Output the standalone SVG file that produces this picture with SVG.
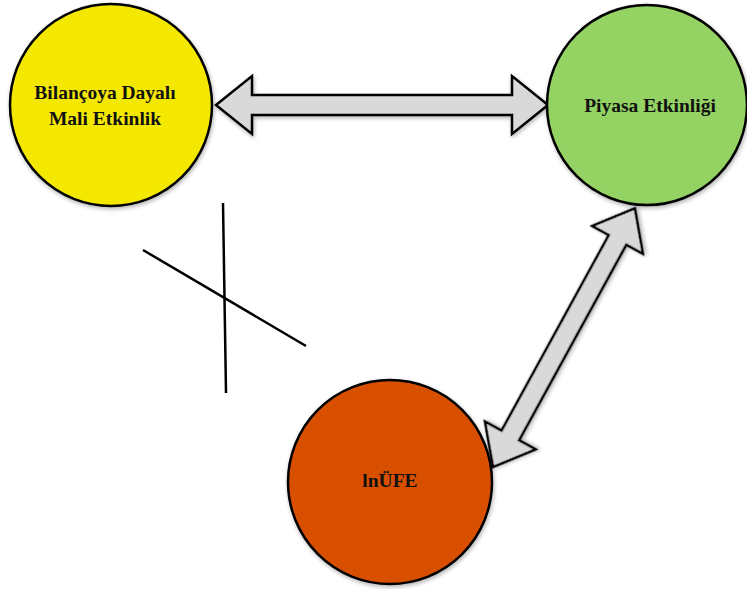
<svg xmlns="http://www.w3.org/2000/svg" width="747" height="589" viewBox="0 0 747 589">
<defs>
<filter id="sh" x="-20%" y="-20%" width="140%" height="140%">
<feGaussianBlur in="SourceAlpha" stdDeviation="2"/>
<feOffset dx="1" dy="2"/>
<feComponentTransfer><feFuncA type="linear" slope="0.3"/></feComponentTransfer>
<feMerge><feMergeNode/><feMergeNode in="SourceGraphic"/></feMerge>
</filter>
</defs>
<style>
.node{stroke:#000;stroke-width:2.5;filter:url(#sh)}
.lbl{font-family:"Liberation Serif","Times New Roman",serif;font-weight:bold;font-size:19.5px;fill:#111;text-anchor:middle}
.arr{fill:#D9D9D9;stroke:#000;stroke-width:2.5;stroke-linejoin:miter;filter:url(#sh)}
.cross{stroke:#000;stroke-width:2.5;fill:none}
</style>
<g id="connectors">
<path class="arr" d="M216,105 L252,76 L252,95 L512,95 L512,76 L548,105 L512,134 L512,115 L252,115 L252,134 Z"/>
<path class="arr" transform="translate(493,467) rotate(-61.26)" d="M0,0 L36,-29 L36,-10 L259,-10 L259,-29 L295,0 L259,29 L259,10 L36,10 L36,29 Z"/>
<line class="cross" x1="223" y1="203" x2="226" y2="393"/>
<line class="cross" x1="143" y1="250" x2="306" y2="346"/>
</g>
<g id="node-bilanco">
<circle class="node" cx="111" cy="105" r="101" fill="#F5E800"/>
<text class="lbl" x="105" y="99">Bilançoya Dayalı</text>
<text class="lbl" x="105" y="125">Mali Etkinlik</text>
</g>
<g id="node-piyasa">
<circle class="node" cx="647" cy="105" r="100" fill="#93D263"/>
<text class="lbl" x="650" y="112">Piyasa Etkinliği</text>
</g>
<g id="node-lnufe">
<circle class="node" cx="390" cy="482" r="102" fill="#D95000"/>
<text class="lbl" x="390" y="487">lnÜFE</text>
</g>
</svg>
